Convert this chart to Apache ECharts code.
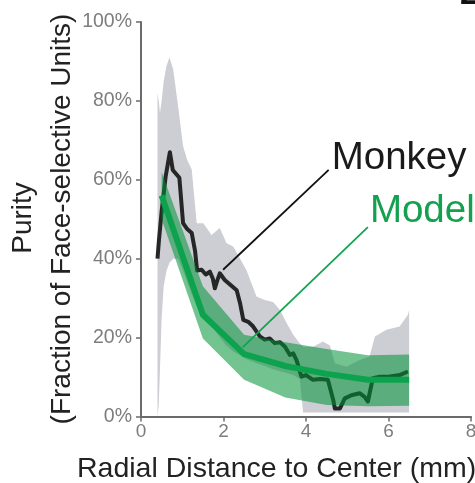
<!DOCTYPE html>
<html><head><meta charset="utf-8">
<script src="https://cdn.jsdelivr.net/npm/echarts@6/dist/echarts.min.js"></script>
<style>html,body{margin:0;padding:0;background:#fff}#c{width:475px;height:483px}</style>
</head><body><div id="c"></div>
<script>
// ---- data ----
const xTicks = [0, 2, 4, 6, 8];
const yTicks = [0, 20, 40, 60, 80, 100];

const monkeyX = [0.40,0.43,0.50,0.60,0.70,0.77,0.93,1.02,1.12,1.23,1.31,1.36,1.47,1.57,1.67,1.74,1.79,1.85,1.91,2.03,2.15,2.32,2.40,2.48,2.60,2.72,2.88,3.00,3.12,3.24,3.37,3.49,3.61,3.69,3.77,3.81,3.89,4.00,4.17,4.35,4.53,4.66,4.70,4.82,4.94,5.10,5.30,5.42,5.50,5.62,5.79,6.00,6.27,6.47];
const monkeyY = [40,44,52,61,67,62.5,60.5,49,47.5,46.5,42,37,37.2,36,36.7,35,32.5,34.5,36.3,34.6,33.5,32,28.8,24.5,24,22.8,20.3,19.5,19.8,18.6,18.8,17.7,15.6,16,14.3,14.3,10.1,10.5,9.3,9.5,9.3,4.2,2,2,4.6,5.4,5.9,5,3.8,9.7,10.1,10.1,10.5,11.4];

const grayX     = [0.40,0.43,0.46,0.50,0.55,0.62,0.69,0.78,0.90,1.02,1.12,1.23,1.35,1.51,1.59,1.71,1.91,2.07,2.24,2.56,2.80,3.00,3.20,3.37,3.53,3.69,3.85,3.93,4.17,4.41,4.58,4.70,4.98,5.30,5.54,5.67,5.95,6.27,6.47,6.50];
const grayUpper = [82,80,77,80,85,89,91,88,78.6,68.5,65,62.6,49,49,47.8,46,47.8,44,43,37,30.4,29.5,29,27,23.7,20.7,18.5,17.7,17.7,19,18,13.5,12.6,14.3,15.2,20.3,22,22.8,25.8,27];
const grayLower = [0,3,12,25,33,37,39,40,40,37,34,31,28,26,25,23,20,18,16.5,14.5,13.5,12.8,12,11.5,11,10.5,9.5,1,1,1,1,1,1,1,1,1,1,1,1,1];

const modelX     = [0.5, 1.5, 2.5, 3.5, 4.5, 5.5, 6.5];
const modelY     = [56, 25.8, 15.8, 12.8, 10.8, 9.3, 9.3];
const modelUpper = [62, 33, 20.7, 18.8, 17.1, 15.5, 15.7];
const modelLower = [50, 19.8, 9.3, 4.8, 2.9, 2.6, 2.7];

const monkeyLeader = [[1.99, 37.2], [4.55, 62.5]];
const modelLeader  = [[2.47, 17.6], [5.50, 48]];

// ---- chart ----
const pairs = (xs, ys) => xs.map((x, i) => [x, ys[i]]);
function band(xs, up, lo, fill, z) {
  return {
    type: 'custom', z: z, silent: true, clip: false,
    data: [[xs[0], lo[0]]],
    encode: { x: 0, y: 1 },
    renderItem: function (params, api) {
      const pts = [];
      for (let i = 0; i < xs.length; i++) pts.push(api.coord([xs[i], up[i]]));
      for (let i = xs.length - 1; i >= 0; i--) pts.push(api.coord([xs[i], lo[i]]));
      return { type: 'polygon', shape: { points: pts }, style: { fill: fill } };
    }
  };
}

const chart = echarts.init(document.getElementById('c'), null, { renderer: 'canvas' });
const axisCol = '#6b6b6b';
const labelCol = '#7d7d7d';
const font = 'Liberation Sans, Arial, Helvetica, sans-serif';

chart.setOption({
  animation: false,
  backgroundColor: '#ffffff',
  grid: { left: 141, right: 4, top: 22, bottom: 66.5, containLabel: false, outerBoundsMode: 'none' },
  xAxis: {
    type: 'value', min: xTicks[0], max: xTicks[xTicks.length - 1], interval: 2,
    axisLine: { show: true, lineStyle: { color: axisCol, width: 2 } },
    axisTick: { show: true, length: 5, lineStyle: { color: axisCol, width: 1.5 } },
    axisLabel: { color: labelCol, fontSize: 19, fontFamily: font, margin: 6 },
    splitLine: { show: false }
  },
  yAxis: {
    type: 'value', min: yTicks[0], max: yTicks[yTicks.length - 1], interval: 20,
    axisLine: { show: true, lineStyle: { color: axisCol, width: 2 } },
    axisTick: { show: true, length: 5, lineStyle: { color: axisCol, width: 1.5 } },
    axisLabel: { color: labelCol, fontSize: 19.5, fontFamily: font, margin: 9, formatter: '{value}%' },
    splitLine: { show: false }
  },
  series: [
    band(grayX, grayUpper, grayLower, '#cdced3', 1),
    {
      type: 'line', name: 'Monkey', z: 2, silent: true, showSymbol: false,
      data: pairs(monkeyX, monkeyY),
      lineStyle: { color: '#262626', width: 4, join: 'round' }
    },
    band(modelX, modelUpper, modelLower, 'rgba(0,145,55,0.55)', 3),
    {
      type: 'line', name: 'Model', z: 4, silent: true, showSymbol: false,
      data: pairs(modelX, modelY),
      lineStyle: { color: '#0da34e', width: 6, join: 'round' }
    },
    {
      type: 'line', z: 5, silent: true, showSymbol: false, data: monkeyLeader,
      lineStyle: { color: '#111111', width: 1.8 }
    },
    {
      type: 'line', z: 5, silent: true, showSymbol: false, data: modelLeader,
      lineStyle: { color: '#12a350', width: 1.8 }
    }
  ]
});

const pM = chart.convertToPixel({ gridIndex: 0 }, monkeyLeader[1]);
const pG = chart.convertToPixel({ gridIndex: 0 }, modelLeader[1]);
chart.setOption({
  graphic: [
    { type: 'text', x: pM[0] + 3, y: pM[1] - 12, style: { text: 'Monkey', fill: '#1a1a1a', font: '38.5px ' + font, verticalAlign: 'middle' } },
    { type: 'text', x: pG[0] + 2, y: pG[1] - 16, style: { text: 'Model', fill: '#13a04f', font: '38.5px ' + font, verticalAlign: 'middle' } },
    { type: 'text', x: 77, y: 469, style: { text: 'Radial Distance to Center (mm)', fill: '#222222', font: '28.5px ' + font, verticalAlign: 'middle' } },
    { type: 'text', x: 23, y: 218, rotation: Math.PI / 2, style: { text: 'Purity', fill: '#222222', font: '28px ' + font, align: 'center', verticalAlign: 'middle' } },
    { type: 'text', x: 62, y: 219, rotation: Math.PI / 2, style: { text: '(Fraction of Face-selective Units)', fill: '#222222', font: '28px ' + font, align: 'center', verticalAlign: 'middle' } },
    { type: 'text', x: 460, y: -5, style: { text: '2', fill: '#111111', font: 'bold 34px ' + font, verticalAlign: 'middle' } }
  ]
});
</script></body></html>
